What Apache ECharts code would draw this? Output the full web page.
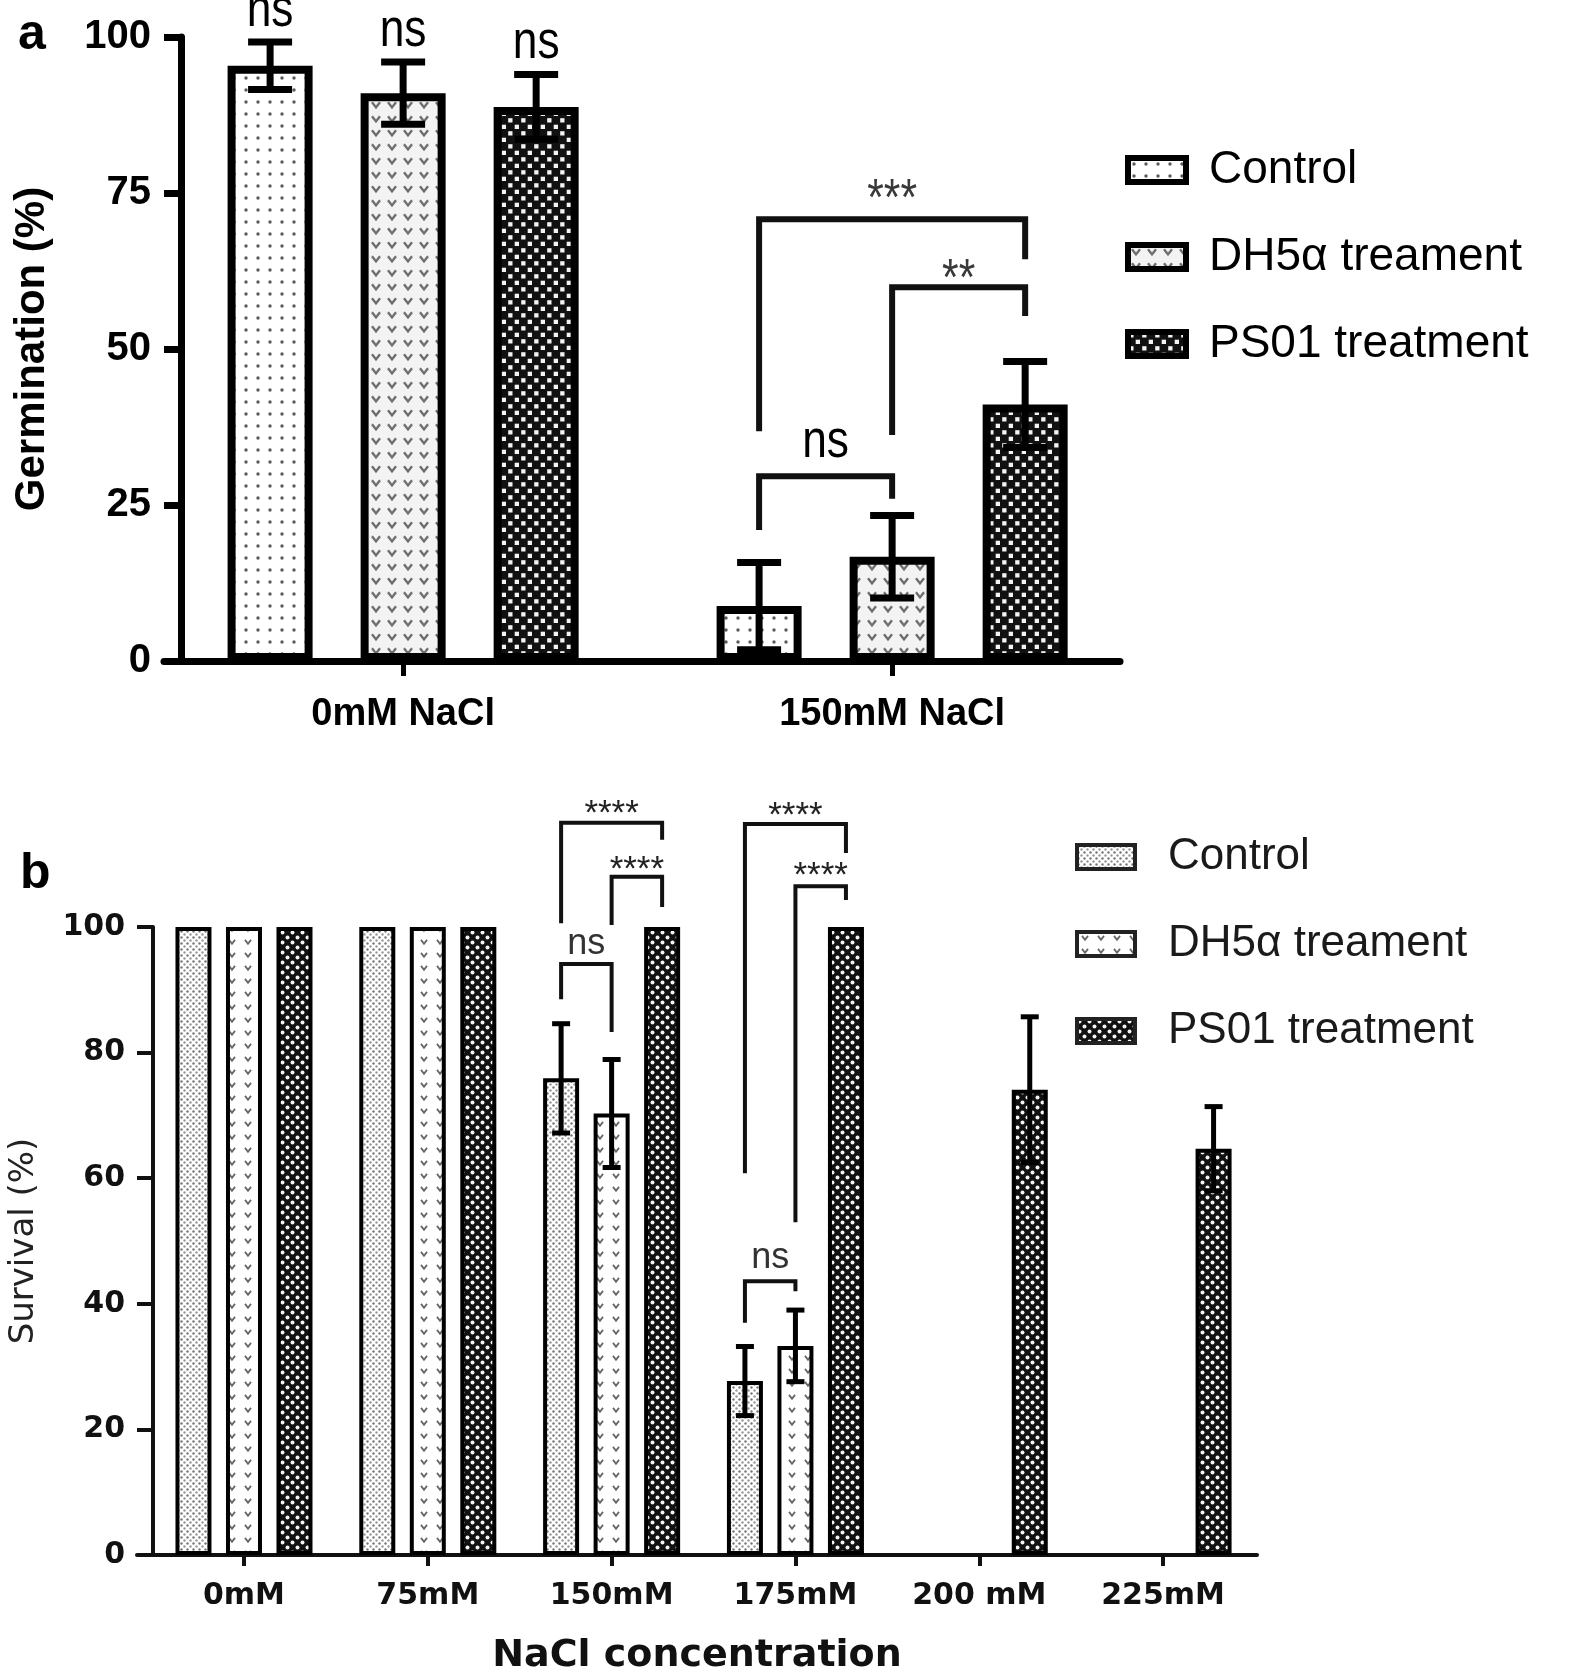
<!DOCTYPE html>
<html><head><meta charset="utf-8">
<script src="https://cdn.jsdelivr.net/npm/echarts@6/dist/echarts.min.js"></script>
<style>html,body{margin:0;padding:0;background:#fff}#c{width:1595px;height:1671px}</style>
</head><body><div id="c"></div><script>
// ================= DATA =================
const seriesNames = ['Control', 'DH5\u03b1 treament', 'PS01 treatment'];

// Panel a : germination
const groupsA = ['0mM NaCl', '150mM NaCl'];
const yTicksA = [0, 25, 50, 75, 100];
const controlA = [95.4, 8.8];
const controlErrA = [3.8, 7.0];
const dh5aA = [91.0, 16.7];
const dh5aErrA = [5.0, 6.6];
const ps01A = [88.8, 41.1];
const ps01ErrA = [5.2, 6.9];
const controlTopLabelA = ['ns', ''];
const dh5aTopLabelA = ['ns', ''];
const ps01TopLabelA = ['ns', ''];
// significance brackets: [group, fromBar, toBar, topValue, fromLegEnd, toLegEnd, text, textValue]
const bracketsA = [
  [1, 0, 1, 29.6, 21.0, 26.0, 'ns', 35.0],
  [1, 1, 2, 59.9, 36.2, 55.3, '**', 61.0],
  [1, 0, 2, 70.8, 36.8, 64.4, '***', 73.7]
];

// Panel b : survival
const groupsB = ['0mM', '75mM', '150mM', '175mM', '200 mM', '225mM'];
const yTicksB = [0, 20, 40, 60, 80, 100];
const controlB = [100, 100, 75.9, 27.7, null, null];
const controlErrB = [0, 0, 8.7, 5.5, 0, 0];
const dh5aB = [100, 100, 70.3, 33.3, null, null];
const dh5aErrB = [0, 0, 8.6, 5.7, 0, 0];
const ps01B = [100, 100, 100, 100, 74.1, 64.7];
const ps01ErrB = [0, 0, 0, 0, 11.6, 6.7];
const bracketsB = [
  [2, 0, 1, 94.1, 88.5, 83.3, 'ns', 97.3],
  [2, 0, 2, 116.6, 100.6, 113.9, '****', 117.9],
  [2, 1, 2, 108.0, 100.3, 103.2, '****', 109.1],
  [3, 0, 1, 43.6, 37.0, 42.0, 'ns', 47.3],
  [3, 0, 2, 116.4, 60.8, 111.8, '****', 117.7],
  [3, 1, 2, 106.5, 53.0, 104.3, '****', 108.0]
];

// ================= STYLE HELPERS =================
const ARIAL = '"Liberation Sans", Arial, sans-serif';
const DEJAVU = '"DejaVu Sans", sans-serif';
const NARROW_SCALE = 0.82;          // emulates the condensed face of the original
const NS_FONT_A = '54px ' + ARIAL;

function makePattern(w, h, draw) {
  const c = document.createElement('canvas'); c.width = w; c.height = h;
  const g = c.getContext('2d'); draw(g, w, h);
  return { image: c, repeat: 'repeat' };
}
const dot = (g, x, y, r, col) => { g.fillStyle = col; g.beginPath(); g.arc(x, y, r, 0, Math.PI * 2); g.fill(); };
const vee = (g, x, y, s, col, lw) => { g.strokeStyle = col; g.lineWidth = lw; g.beginPath(); g.moveTo(x - s, y - s * 0.7); g.lineTo(x, y + s * 0.6); g.lineTo(x + s, y - s * 0.7); g.stroke(); };

const patA = [
  makePattern(12, 12, (g, w, h) => { g.fillStyle = '#fff'; g.fillRect(0, 0, w, h); dot(g, 6, 6, 1.7, '#5a5a5a'); }),
  makePattern(16, 14, (g, w, h) => { g.fillStyle = '#f3f3f3'; g.fillRect(0, 0, w, h); vee(g, 8, 7, 4, '#6e6e6e', 2.4); }),
  makePattern(13, 13, (g, w, h) => { g.fillStyle = '#111'; g.fillRect(0, 0, w, h); g.fillStyle = '#f4f4f4'; g.fillRect(1.2, 1.2, 4.3, 4.3); g.fillRect(7.7, 7.7, 4.3, 4.3); })
];
const patB = [
  makePattern(6, 6, (g, w, h) => { g.fillStyle = '#fff'; g.fillRect(0, 0, w, h); dot(g, 1.5, 1.5, 1.2, '#777'); dot(g, 4.5, 4.5, 1.2, '#999'); }),
  makePattern(16, 13, (g, w, h) => { g.fillStyle = '#fff'; g.fillRect(0, 0, w, h); vee(g, 8, 6, 3, '#666', 1.8); }),
  makePattern(10, 10, (g, w, h) => { g.fillStyle = '#111'; g.fillRect(0, 0, w, h); dot(g, 2.5, 2.5, 2.0, '#f4f4f4'); dot(g, 7.5, 7.5, 2.0, '#f4f4f4'); })
];

// barW = outer bar width (ECharts keeps the border inside it)
const geomA = { barW: 85, gap: 0.565, border: 8, errLW: 7, capW: 44, brLW: 6 };
const geomB = { barW: 36, gap: 0.403, border: 4, errLW: 5, capW: 18, brLW: 4 };

// ================= SERIES BUILDERS =================
function barSeries(name, idx, values, pattern, geom, axisIdx) {
  const data = [];
  values.forEach((v, g) => { if (v != null) data.push([g, v]); });
  return {
    type: 'bar', name: name, xAxisIndex: axisIdx, yAxisIndex: axisIdx,
    barWidth: geom.barW, barGap: (geom.gap * 100) + '%',
    itemStyle: { color: pattern, borderColor: '#000', borderWidth: geom.border },
    data: data, z: 2, silent: true
  };
}
function errSeries(idx, values, errs, labels, geom, axisIdx) {
  const data = [], labs = [];
  values.forEach((v, g) => {
    if (v == null) return;
    const e = errs[g] || 0;
    const l = labels ? labels[g] : '';
    if (e > 0 || l) { data.push([g, v, e]); labs.push(l); }
  });
  return {
    type: 'custom', xAxisIndex: axisIdx, yAxisIndex: axisIdx, z: 4, silent: true, clip: false,
    data: data,
    renderItem: function (params, api) {
      const g = api.value(0), m = api.value(1), e = api.value(2);
      const dx = (idx - 1) * geom.barW * (1 + geom.gap);
      const x = api.coord([g, m])[0] + dx;
      const yt = api.coord([g, m + e])[1], yb = api.coord([g, m - e])[1];
      const hw = geom.capW / 2;
      const st = { stroke: '#000', lineWidth: geom.errLW, lineCap: 'butt' };
      const ch = [];
      if (e > 0) {
        ch.push({ type: 'line', shape: { x1: x, y1: yt, x2: x, y2: yb }, style: st });
        ch.push({ type: 'line', shape: { x1: x - hw, y1: yt, x2: x + hw, y2: yt }, style: st });
        ch.push({ type: 'line', shape: { x1: x - hw, y1: yb, x2: x + hw, y2: yb }, style: st });
      }
      const l = labs[params.dataIndex];
      if (l) ch.push({ type: 'text', x: x, y: yt - 4, scaleX: NARROW_SCALE, style: { text: l, x: 0, y: 0, align: 'center', verticalAlign: 'bottom', font: NS_FONT_A, fill: '#000' } });
      return { type: 'group', children: ch };
    }
  };
}
function bracketSeries(brackets, geom, axisIdx, styleFor) {
  return {
    type: 'custom', xAxisIndex: axisIdx, yAxisIndex: axisIdx, z: 5, silent: true, clip: false,
    data: brackets.map(b => [b[0], b[3]]),
    renderItem: function (params, api) {
      const b = brackets[params.dataIndex];
      const sp = geom.barW * (1 + geom.gap);
      const x0 = api.coord([b[0], b[3]])[0];
      const xa = x0 + (b[1] - 1) * sp, xb = x0 + (b[2] - 1) * sp;
      const yT = api.coord([b[0], b[3]])[1];
      const ya = api.coord([b[0], b[4]])[1], yb = api.coord([b[0], b[5]])[1];
      const ty = api.coord([b[0], b[7]])[1];
      const s = styleFor(b[6]);
      return { type: 'group', children: [
        { type: 'polyline', shape: { points: [[xa, ya], [xa, yT], [xb, yT], [xb, yb]] }, style: { stroke: '#111', lineWidth: geom.brLW, fill: null, lineJoin: 'miter', lineCap: 'butt' } },
        { type: 'text', x: (xa + xb) / 2, y: ty, scaleX: s.scaleX, style: { text: b[6], x: 0, y: 0, align: 'center', verticalAlign: 'middle', font: s.font, fill: s.fill } }
      ] };
    }
  };
}

// ================= OPTION =================
const valsA = [controlA, dh5aA, ps01A], errsA = [controlErrA, dh5aErrA, ps01ErrA], labsA = [controlTopLabelA, dh5aTopLabelA, ps01TopLabelA];
const valsB = [controlB, dh5aB, ps01B], errsB = [controlErrB, dh5aErrB, ps01ErrB];
const namesB = seriesNames.map(n => 'b\u00b7' + n);

const series = [];
seriesNames.forEach((n, i) => series.push(barSeries(n, i, valsA[i], patA[i], geomA, 0)));
namesB.forEach((n, i) => series.push(barSeries(n, i, valsB[i], patB[i], geomB, 1)));
seriesNames.forEach((n, i) => series.push(errSeries(i, valsA[i], errsA[i], labsA[i], geomA, 0)));
namesB.forEach((n, i) => series.push(errSeries(i, valsB[i], errsB[i], null, geomB, 1)));
series.push(bracketSeries(bracketsA, geomA, 0, t => t === 'ns'
  ? { font: NS_FONT_A, fill: '#000', scaleX: NARROW_SCALE }
  : { font: '52px ' + ARIAL, fill: '#3a3a3a', scaleX: NARROW_SCALE }));
series.push(bracketSeries(bracketsB, geomB, 1, t => t === 'ns'
  ? { font: '36px ' + ARIAL, fill: '#333', scaleX: 1 }
  : { font: '35px ' + ARIAL, fill: '#222', scaleX: 1 }));

const option = {
  animation: false,
  backgroundColor: '#fff',
  title: [
    { text: 'a', left: 18, top: 10, padding: 0, textStyle: { fontSize: 50, fontWeight: 'bold', fontFamily: ARIAL, color: '#000' } },
    { text: 'b', left: 20, top: 849, padding: 0, textStyle: { fontSize: 50, fontWeight: 'bold', fontFamily: ARIAL, color: '#000' } }
  ],
  grid: [
    { left: 164, top: 37, width: 956, height: 624, containLabel: false, outerBoundsMode: 'none' },
    { left: 137, top: 927, width: 1120, height: 628, containLabel: false, outerBoundsMode: 'none' }
  ],
  legend: [
    {
      orient: 'vertical', left: 1125, top: 145, padding: 0, itemGap: 37, itemWidth: 58, itemHeight: 24,
      icon: 'rect', selectedMode: false, data: seriesNames,
      itemStyle: { borderColor: '#000', borderWidth: 6 },
      textStyle: { fontFamily: ARIAL, fontSize: 46, color: '#000', lineHeight: 50, padding: [0, 0, 0, 18] }
    },
    {
      orient: 'vertical', left: 1075, top: 835, padding: 0, itemGap: 43, itemWidth: 58, itemHeight: 24,
      icon: 'rect', selectedMode: false, data: namesB, formatter: n => n.slice(2),
      itemStyle: { borderColor: '#222', borderWidth: 4 },
      textStyle: { fontFamily: ARIAL, fontSize: 44, color: '#1a1a1a', lineHeight: 44, padding: [0, 0, 0, 28] }
    }
  ],
  xAxis: [
    {
      gridIndex: 0, type: 'value', min: -0.489, max: 1.466, position: 'bottom',
      axisLine: { show: true, onZero: false, lineStyle: { color: '#000', width: 7 } },
      axisTick: { show: true, customValues: [0, 1], length: 15, lineStyle: { color: '#000', width: 5 } },
      axisLabel: { show: true, customValues: [0, 1], formatter: v => groupsA[Math.round(v)], fontFamily: ARIAL, fontWeight: 'bold', fontSize: 38, color: '#000', margin: 35 },
      splitLine: { show: false }
    },
    {
      gridIndex: 1, type: 'value', min: -0.582, max: 5.511, position: 'bottom',
      axisLine: { show: true, onZero: false, lineStyle: { color: '#111', width: 4 } },
      axisTick: { show: true, customValues: [0, 1, 2, 3, 4, 5], length: 11, lineStyle: { color: '#111', width: 4 } },
      axisLabel: { show: true, customValues: [0, 1, 2, 3, 4, 5], formatter: v => groupsB[Math.round(v)], fontFamily: DEJAVU, fontWeight: 'bold', fontSize: 30, color: '#111', margin: 26 },
      splitLine: { show: false },
      name: 'NaCl concentration', nameLocation: 'middle', nameGap: 82,
      nameTextStyle: { fontFamily: DEJAVU, fontWeight: 'bold', fontSize: 38, color: '#111' }
    }
  ],
  yAxis: [
    {
      gridIndex: 0, type: 'value', min: 0, max: 100, interval: 25, offset: -17,
      axisLine: { show: true, onZero: false, lineStyle: { color: '#000', width: 7 } },
      axisTick: { show: true, length: 17, lineStyle: { color: '#000', width: 7 } },
      axisLabel: { fontFamily: ARIAL, fontWeight: 'bold', fontSize: 40, color: '#000', margin: 30, formatter: v => yTicksA.includes(v) ? String(v) : '' },
      splitLine: { show: false },
      name: 'Germination (%)', nameLocation: 'middle', nameGap: 128,
      nameTextStyle: { fontFamily: ARIAL, fontWeight: 'bold', fontSize: 42, color: '#000' }
    },
    {
      gridIndex: 1, type: 'value', min: 0, max: 100, interval: 20, offset: -16,
      axisLine: { show: true, onZero: false, lineStyle: { color: '#111', width: 4 } },
      axisTick: { show: true, length: 16, lineStyle: { color: '#111', width: 4 } },
      axisLabel: { fontFamily: DEJAVU, fontWeight: 'bold', fontSize: 30, color: '#111', margin: 28, formatter: v => yTicksB.includes(v) ? String(v) : '' },
      splitLine: { show: false },
      name: 'Survival (%)', nameLocation: 'middle', nameGap: 112,
      nameTextStyle: { fontFamily: DEJAVU, fontSize: 34, color: '#222' }
    }
  ],
  series: series
};

const chart = echarts.init(document.getElementById('c'), null, { renderer: 'canvas', width: 1595, height: 1671 });
chart.setOption(option);
</script></body></html>
